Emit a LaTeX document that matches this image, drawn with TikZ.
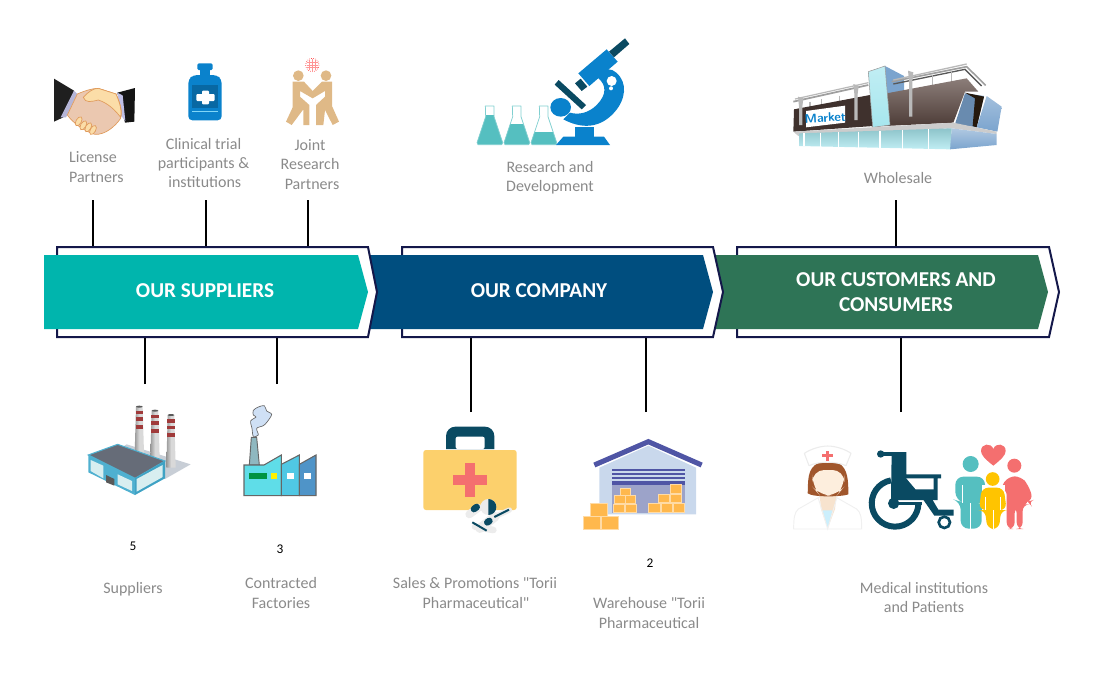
\documentclass[tikz,border=0pt]{standalone}
\usepackage{fontspec}
\setmainfont{Carlito}[Ligatures=TeXOff]
\definecolor{cTeal}{HTML}{00B5AD}
\definecolor{cNavy}{HTML}{004E7F}
\definecolor{cGreen}{HTML}{2E7456}
\definecolor{cFrame}{HTML}{14184A}
\definecolor{cText}{HTML}{8A8A8A}
\definecolor{cDark}{HTML}{0A4A62}
\definecolor{cBlue}{HTML}{0A82CC}
\definecolor{cAqua}{HTML}{55BFC0}
\definecolor{cTan}{HTML}{DFB987}
\definecolor{cBox}{HTML}{FFB84D}
\definecolor{cCase}{HTML}{FCD06C}
\definecolor{cCoral}{HTML}{F46F6F}
\definecolor{cSlate}{HTML}{4F55A5}
\definecolor{cBrown}{HTML}{5A4640}
\definecolor{cGlass}{HTML}{A6E6EE}
\definecolor{cSteel}{HTML}{7BA4CE}
\definecolor{cWall}{HTML}{C9D8EC}
\definecolor{cDoor}{HTML}{9CA3C9}
\definecolor{cYel}{HTML}{FFC400}
\definecolor{cPlate}{HTML}{C8CED6}
\definecolor{cRoof}{HTML}{666C78}
\definecolor{cWallA}{HTML}{4FB0D0}
\definecolor{cWallB}{HTML}{3FA2C4}
\definecolor{cWin}{HTML}{D8EEF0}
\definecolor{cBand}{HTML}{A03A3A}
\definecolor{cSmoke}{HTML}{CFE0F5}
\definecolor{cChim}{HTML}{8FB8C0}
\definecolor{cFa}{HTML}{5FDDE8}
\definecolor{cFb}{HTML}{50C8E4}
\definecolor{cFc}{HTML}{4F94C8}
\definecolor{cOut}{HTML}{666666}
\definecolor{cSkin}{HTML}{EBC8B0}
\definecolor{cSkinB}{HTML}{FBDDA8}
\definecolor{cSkinL}{HTML}{E09A5A}
\definecolor{cHair}{HTML}{A0562C}
\definecolor{cFace}{HTML}{FDEEDD}
\definecolor{cNeck}{HTML}{F7E3CE}
\tikzset{
  label text/.style={text=cText,font=\fontsize{12pt}{14.4pt}\selectfont,align=center,inner sep=0pt},
  count text/.style={text=black,font=\fontsize{10pt}{11pt}\selectfont,inner sep=0pt},
  band title/.style={text=white,font=\fontsize{15.9pt}{18.2pt}\selectfont\bfseries,align=center,inner sep=0pt},
  frame shape/.style={draw=cFrame,line width=1.5pt,fill=white,line join=miter},
  connector/.style={draw=black,line width=1.9pt},
  stick/.style={line cap=round,line join=round},
}
\begin{document}
\begin{tikzpicture}[x=0.75pt,y=-0.75pt]
\useasboundingbox (0,0) rectangle (1098,682);
% connector end points
\foreach \n/\x/\ya/\yb in {a/93/200/247,b/206/200/247,c/308/200/247,d/896/200/247,e/145/384/337,f/277/384/337,g/471/412/337,h/646/412/337,i/901/412/337}{
  \coordinate (\n free) at (\x,\ya);
  \coordinate (\n band) at (\x,\yb);
  \draw[connector] (\n free) -- (\n band);
}
% chevrons
\draw[frame shape] (737,247) -- (1049,247) -- (1059,292) -- (1049,337) -- (737,337) -- cycle;
\fill[cGreen] (705,255) -- (1038,255) -- (1048,292) -- (1038,329) -- (705,329) -- cycle;
\draw[frame shape] (402,247) -- (713,247) -- (723,292) -- (713,337) -- (402,337) -- cycle;
\fill[cNavy] (360,255) -- (703,255) -- (713,292) -- (703,329) -- (360,329) -- cycle;
\draw[frame shape] (57,247) -- (368,247) -- (377,292) -- (368,337) -- (57,337) -- cycle;
\fill[cTeal] (44,255) -- (358,255) -- (368,292) -- (358,329) -- (44,329) -- cycle;
\node[band title] (t1) at (205,291) {OUR SUPPLIERS};
\node[band title] (t2) at (539,291) {OUR COMPANY};
\node[band title] (t3) at (896,292) {OUR CUSTOMERS AND\\CONSUMERS};
% labels
\node[label text] (l1) at (93,167) {License\\\hspace*{5pt}Partners};
\node[label text] (l2) at (203.5,163) {Clinical trial\\participants \&\\\hspace*{2pt}institutions};
\node[label text] (l3) at (310,164.5) {Joint\\Research\\\hspace*{3pt}Partners};
\node[label text] (l4) at (550,177.5) {Research and\\Development};
\node[label text] (l5) at (898,177.5) {Wholesale};
\node[label text] (l6) at (133,589.5) {Suppliers};
\node[label text] (l7) at (281,593) {Contracted\\Factories};
\node[label text] (l8) at (475,593) {Sales \& Promotions "Torii\\\hspace*{1.5pt}Pharmaceutical"};
\node[label text] (l9) at (649,613) {Warehouse "Torii\\Pharmaceutical};
\node[label text] (l10) at (924,597.5) {Medical institutions\\and Patients};
\node[count text] (n5) at (133,546) {5};
\node[count text] (n3) at (280,549) {3};
\node[count text] (n2) at (650,563) {2};

% ---------- handshake, bottle, joint research
\begin{scope}[shift={(30,20)},scale=0.33333]
  \fill[black!88] (72,176) -- (132,212) -- (100,292) -- (72,305) -- cycle;
  \fill[black!92] (262,218) -- (315,204) -- (313,305) -- (285,308) -- cycle;
  \fill[blue!30!gray!45!white] (132,212) -- (142,222) -- (108,292) -- (92,292) -- cycle;
  \fill[cyan!20!blue!25!white] (262,218) -- (278,226) -- (286,303) -- (274,288) -- cycle;
  \draw[fill=cSkin,draw=cSkinL,line width=.5pt] (142,222) .. controls (170,210) and (190,205) .. (205,205) -- (258,222) .. controls (270,250) and (278,270) .. (272,295) .. controls (255,320) and (225,345) .. (195,343) .. controls (165,335) and (130,310) .. (112,285) -- cycle;
  \draw[fill=cSkinB,draw=cSkinL,line width=.5pt] (160,232) .. controls (175,215) and (190,205) .. (205,205) -- (258,222) .. controls (270,250) and (276,270) .. (272,292) .. controls (255,270) and (235,250) .. (205,240) .. controls (185,245) and (165,250) .. (160,232) -- cycle;
  \foreach \fx/\fy in {146/304,160/316,175/322,189/330}{
    \draw[fill=cSkinB,draw=cSkinL,line width=.5pt,rotate around={-30:(\fx,\fy)}] (\fx,\fy) ellipse (8 and 15);
  }
  % bottle
  \fill[cBlue,rounded corners=1pt] (502,130) rectangle (548,150);
  \fill[cBlue] (510,150) rectangle (540,165);
  \fill[cBlue,rounded corners=3pt] (475,178) -- (490,165) -- (560,165) -- (575,178) -- (575,301) -- (475,301) -- cycle;
  \fill[cBlue!80!black] (485,195) rectangle (565,263);
  \fill[white,rounded corners=.8pt] (516,212) rectangle (537,253);
  \fill[white,rounded corners=.8pt] (499,222) rectangle (554,243);
  \fill[cyan!50!white] (485,272) rectangle (565,276);
  % joint research
  \fill[cTan] (805,167) circle (16) (888,167) circle (16);
  \fill[cTan] (788,185) -- (822,185) -- (848,213) -- (876,185) -- (906,185) -- (906,258) -- (927,305) -- (908,315) -- (885,270) -- (880,315) -- (858,315) -- (858,255) -- (885,230) -- (885,213) -- (848,235) -- (810,213) -- (810,230) -- (838,255) -- (838,315) -- (820,315) -- (820,268) -- (785,315) -- (768,305) -- (788,262) -- cycle;
  \draw[red!60!pink,densely dotted,line width=.5pt,fill=white] (847,135) circle (20);
  \draw[red!45!pink!70!white,line width=.3pt] (847,117) -- (847,153) (839,119) -- (839,151) (855,119) -- (855,151) (830,128) -- (864,128) (830,135) -- (864,135) (830,142) -- (864,142);
\end{scope}

% ---------- flasks and microscope
\begin{scope}[shift={(450,20)},scale=0.33333]
  \foreach \dx/\lev in {0/285,81/313,162/335}{
    \begin{scope}[shift={(\dx,0)}]
      \begin{scope}
        \clip (106,258) -- (132,258) -- (132,290) -- (158,368) -- (155,374) -- (84,374) -- (81,368) -- (107,290) -- cycle;
        \fill[cAqua] (70,\lev) rectangle (170,380);
      \end{scope}
      \draw[cAqua!75!white,line width=.55pt,line join=round] (106,258) -- (132,258) -- (132,290) -- (158,368) -- (155,374) -- (84,374) -- (81,368) -- (107,290) -- cycle;
    \end{scope}
  }
  \fill[cBlue] (318,375) -- (340,350) -- (462,350) -- (480,375) -- cycle;
  \fill[cBlue] (374,322) rectangle (432,350);
  \fill[cBlue] (340,298) .. controls (390,325) and (440,325) .. (480,290) .. controls (520,255) and (535,205) .. (510,170) .. controls (495,150) and (480,145) .. (465,150) -- (445,175) .. controls (470,195) and (470,225) .. (440,255) .. controls (415,280) and (385,285) .. (360,278) -- cycle;
  \fill[white] (485,183) circle (15) (483,205) circle (6);
  \fill[cBlue] (332,262) ellipse (31 and 28);
  \fill[cDark] (326,180) -- (408,255) -- (395,268) -- (314,194) -- cycle;
  \fill[cDark] (375,190) -- (392,176) -- (412,200) -- (395,213) -- cycle;
  \fill[cBlue] (385,160) -- (470,88) -- (503,125) -- (418,198) -- cycle;
  \fill[cDark] (477,95) -- (525,55) -- (538,72) -- (492,112) -- cycle;
\end{scope}

% ---------- market
\begin{scope}[shift={(780,50)},scale=0.33333]
  \fill[cSteel] (315,48) -- (372,78) -- (372,130) -- (320,135) -- cycle;
  \fill[cSteel!85!black] (525,222) -- (555,130) -- (612,138) -- (590,232) -- cycle;
  \fill[black!80!brown] (555,128) -- (612,140) -- (590,232) -- (578,228) -- (585,145) -- cycle;
  \shade[top color=cSteel!70!white,bottom color=cSteel] (620,138) -- (665,170) -- (652,245) -- (590,232) -- cycle;
  \draw[gray!75,line width=1.3pt] (40,155) -- (265,105);
  \draw[gray!55,line width=.9pt] (45,147) -- (265,98);
  \draw[gray!75,line width=1.2pt] (335,95) -- (560,50) -- (617,106);
  \draw[black!65,line width=1pt] (340,102) -- (555,58) -- (605,108);
  \draw[gray!55,line width=1pt] (340,90) -- (560,42);
  \foreach \px/\py in {90/155,125/148,178/137,458/75,515/62}{\draw[gray!55,line width=.9pt] (\px,\py) -- (\px,\py+32);}
  \shade[top color=cBrown!70!white,bottom color=cBrown!85!black] (320,130) -- (560,85) -- (595,125) -- (555,125) -- (520,218) -- (275,230) -- cycle;
  \fill[cBrown!70!black] (42,178) -- (270,135) -- (280,228) -- (40,245) -- cycle;
  \fill[white] (78,183) -- (195,167) -- (195,218) -- (78,232) -- cycle;
  \node[inner sep=0pt,text=cBlue,font=\fontsize{9.5pt}{10pt}\selectfont\bfseries\sffamily,rotate=3] (mkt) at (136,203) {Market};
  \shade[top color=cGlass!70!white,bottom color=cGlass] (265,65) -- (315,48) -- (330,225) -- (278,232) -- cycle;
  \draw[gray!80,line width=.4pt] (265,65) -- (315,48) -- (330,225) -- (278,232) -- cycle;
  \foreach \px/\py/\pb in {62/140/225,228/102/210,392/62/200}{
    \fill[gray!55] (\px-8,\py) -- (\px+8,\py+5) -- (\px+5,\py+30) -- (\px+5,\pb) -- (\px-5,\pb) -- (\px-5,\py+30) -- cycle;
  }
  \fill[gray!40!white] (40,245) -- (520,218) -- (650,245) -- (650,252) -- (515,235) -- (55,258) -- cycle;
  \shade[top color=cSteel!60!white,bottom color=cSteel] (515,235) -- (650,252) -- (650,285) -- (510,298) -- cycle;
  \shade[top color=cGlass!85!black,bottom color=cGlass!70!white] (58,250) -- (515,235) -- (510,298) -- (58,288) -- cycle;
  \foreach \mx/\my/\mb in {72/250/289,122/249/291,175/247/292,235/245/294,300/243/295,368/240/296,445/237/297}{\draw[white,line width=.9pt] (\mx,\my) -- (\mx,\mb);}
\end{scope}

% ---------- factories
\begin{scope}[shift={(70,395)},scale=0.33333]
  \fill[cPlate] (170,148) -- (362,208) -- (285,252) -- (120,180) -- cycle;
  \foreach \sx/\st/\sb in {208/35/175,255/47/190,303/60/218}{
    \shade[left color=gray!80,right color=gray!30,middle color=gray!30] (\sx-10,\st) -- (\sx+10,\st) -- (\sx+14,\sb) -- (\sx-14,\sb) -- cycle;
    \fill[black!65] (\sx,\st) ellipse (10 and 3);
    \foreach \b in {12,32,55}{\fill[cBand] (\sx-11,\st+\b) rectangle (\sx+11,\st+\b+11);}
  }
  \fill[cRoof] (55,180) -- (143,148) -- (285,198) -- (195,250) -- cycle;
  \draw[cWallA,line width=.8pt] (55,180) -- (143,148) -- (285,198) -- (195,250) -- cycle;
  \fill[cWallA] (55,180) -- (195,250) -- (195,300) -- (55,232) -- cycle;
  \fill[cWallB] (195,250) -- (285,198) -- (285,250) -- (195,300) -- cycle;
  \fill[cWin] (62,195) -- (100,212) -- (100,250) -- (62,228) -- cycle;
  \fill[cWin] (143,238) -- (186,258) -- (186,288) -- (143,268) -- cycle;
  \fill[cWin] (200,252) -- (278,210) -- (278,246) -- (200,290) -- cycle;
  \fill[gray!70!black] (108,240) -- (133,252) -- (133,272) -- (108,262) -- cycle;
  % factory 2
  \draw[cOut,fill=cSmoke,line width=.5pt] plot[smooth cycle] coordinates {(550,124) (565,120) (560,100) (580,92) (592,80) (605,58) (590,48) (583,32) (565,36) (550,46) (550,60) (558,66) (542,78) (546,100)};
  \draw[cOut,fill=cChim,line width=.7pt] (538,210) -- (544,127) -- (560,127) -- (568,210) -- cycle;
  \draw[cOut,fill=cFa,line width=.8pt] (522,210) -- (582,210) -- (634,180) -- (634,302) -- (522,302) -- cycle;
  \draw[cOut,fill=cFb,line width=.8pt] (634,208) -- (688,180) -- (688,302) -- (634,302) -- cycle;
  \draw[cOut,fill=cFc,line width=.8pt] (688,208) -- (738,180) -- (738,302) -- (688,302) -- cycle;
  \fill[green!65!black!50!teal] (536,234) rectangle (592,252);
  \fill[yellow] (603,234) rectangle (622,252);
  \fill[white] (652,234) rectangle (672,252);
  \fill[white] (703,234) rectangle (722,252);
\end{scope}

% ---------- medical case and warehouse
\begin{scope}[shift={(410,415)},scale=0.33333]
  \fill[cDark] (108,102) [rounded corners=7pt] -- (108,35) -- (253,35) [sharp corners] -- (253,102) -- cycle;
  \fill[white,rounded corners=1.5pt] (137,65) -- (224,65) -- (224,102) -- (137,102) -- cycle;
  \fill[cCase,rounded corners=2pt] (40,105) rectangle (320,285);
  \fill[cCoral] (165,145) rectangle (195,245);
  \fill[cCoral] (130,180) rectangle (232,210);
  \draw[gray!15,line width=6pt,line cap=round] (178,298) -- (205,278);
  \draw[cDark,line width=5pt,line cap=round] (192,282) -- (200,276);
  \draw[gray!15,line width=5pt,line cap=round] (195,335) -- (250,345);
  \draw[gray!15,line width=7pt,line cap=round] (210,340) -- (255,305);
  \draw[cDark,line width=5pt,line cap=round] (232,322) -- (238,318);
  \draw[gray!15,line width=4pt,line cap=round] (255,305) -- (298,285);
  \draw[cDark,line width=1.5pt] (253,306) -- (297,284);
  \draw[cDark,line width=1.5pt] (187,322) -- (230,347);
  \fill[gray!15] (235,276) circle (24);
  \fill[cDark] (235,252) arc[start angle=-90,end angle=90,radius=24] -- cycle;
  % warehouse
  \fill[cWall] (568,158) -- (715,92) -- (858,158) -- (858,298) -- (568,298) -- cycle;
  \draw[cSlate,line width=3.8pt] (553,150) -- (715,80) -- (875,150);
  \fill[cDoor] (607,208) rectangle (825,295);
  \foreach \sy in {162,174,186,198}{\fill[cSlate] (607,\sy) rectangle (825,\sy+6);}
  \fill[cSlate] (607,203) rectangle (825,210);
  \foreach \xa/\ya/\xb/\yb in {610/267/642/291,646/267/680/291,612/241/645/265,647/241/677/265,630/219/662/241,714/264/750/291,753/264/786/291,789/264/822/291,744/237/778/262,780/237/814/262,780/209/814/235,542/265/592/303,520/305/570/343,575/305/625/343}{
    \draw[fill=cBox,draw=cBox!50!white,line width=.4pt] (\xa,\ya) rectangle (\xb,\yb);
  }
\end{scope}

% ---------- nurse, wheelchair, family
\begin{scope}[shift={(785,435)},scale=0.33333]
  % nurse
  \draw[gray!12,fill=white,line width=.7pt] (26,282) .. controls (26,250) and (28,232) .. (40,222) -- (105,185) -- (150,185) -- (215,222) .. controls (228,232) and (230,250) .. (230,282) -- cycle;
  \fill[cNeck] (103,170) -- (155,170) -- (150,222) -- (128,280) -- (108,222) -- cycle;
  \fill[cyan!20!white] (113,226) -- (142,226) -- (128,280) -- cycle;
  \draw[gray!12,line width=.7pt] (100,190) -- (128,282) -- (155,190);
  \fill[cHair] (68,175) .. controls (70,140) and (65,100) .. (100,84) -- (160,84) .. controls (190,100) and (190,140) .. (190,178) .. controls (175,185) and (85,188) .. (68,175) -- cycle;
  \fill[cFace,rounded corners=9pt] (82,105) -- (178,105) -- (178,155) -- (155,182) -- (105,182) -- (82,155) -- cycle;
  \draw[gray!15,fill=white,line width=.8pt,line join=round] (58,55) .. controls (80,40) and (110,33) .. (128,33) .. controls (150,33) and (180,42) .. (198,55) -- (183,92) .. controls (150,78) and (105,78) .. (72,92) -- cycle;
  \fill[cCoral] (123,47) rectangle (133,78);
  \fill[cCoral] (112,58) rectangle (145,67);
  % wheelchair
  \draw[cDark,line width=4.5pt] (318,136) arc[start angle=-100,end angle=-358,radius=70];
  \fill[cDark] (326,205) circle (17);
  \fill[cDark] (287,57) circle (11);
  \fill[cDark] (287,51) rectangle (330,63);
  \fill[cDark] (320,51) -- (364,51) -- (364,118) -- (468,118) -- (468,130) -- (458,130) -- (458,195) -- (318,195) -- cycle;
  \fill[white] (364,130) -- (446,130) -- (446,163) -- (392,163) -- cycle;
  \fill[cDark] (412,190) -- (440,190) -- (460,224) -- (506,224) -- (506,242) -- (448,242) -- cycle;
  \draw[cDark,line width=2pt,fill=white] (478,262) circle (17);
  \draw[cDark,line width=1.8pt] (326,205) -- (412,205);
  % heart
  \fill[cCoral] (625,92) .. controls (600,72) and (588,60) .. (588,48) .. controls (588,25) and (618,22) .. (625,42) .. controls (632,22) and (662,25) .. (662,48) .. controls (662,60) and (650,72) .. (625,92) -- cycle;
  % man
  \fill[cAqua] (557,87) circle (24);
  \fill[cAqua,rounded corners=6pt] (511,125) -- (600,125) -- (600,205) -- (590,205) -- (590,281) -- (527,281) -- (527,200) -- (511,195) -- cycle;
  \draw[white,line width=.35pt] (531,150) -- (531,205) (557,205) -- (557,282);
  % woman
  \fill[cCoral] (688,92) circle (21);
  \fill[cCoral,rounded corners=5pt] (670,124) -- (708,124) -- (730,150) -- (745,195) -- (728,200) -- (735,208) -- (713,208) -- (713,282) -- (695,282) -- (695,215) -- (689,215) -- (689,282) -- (665,282) -- (665,160) -- (645,160) -- cycle;
  % child
  \fill[white] (590,150) rectangle (660,283);
  \fill[cYel] (623,132) circle (20.5);
  \fill[cYel,rounded corners=5pt] (590,158) -- (656,158) -- (665,225) -- (648,225) -- (642,282) -- (607,282) -- (600,225) -- (582,225) -- cycle;
  \draw[white,line width=.35pt] (601,185) -- (601,225) (647,185) -- (647,225) (623.5,225) -- (623.5,283);
\end{scope}
\end{tikzpicture}
\end{document}
